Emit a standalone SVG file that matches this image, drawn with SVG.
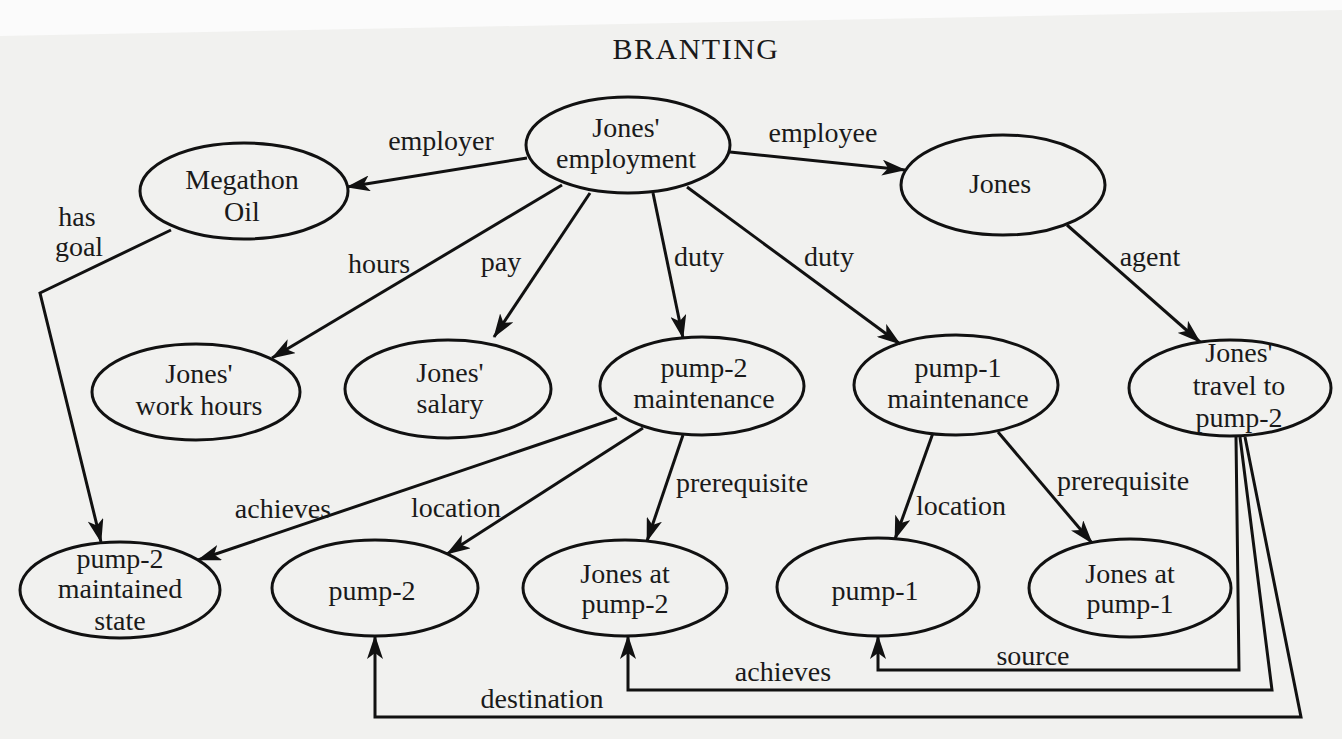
<svg xmlns="http://www.w3.org/2000/svg" width="1342" height="739" viewBox="0 0 1342 739">
  <defs>
    <marker id="arr" viewBox="0 0 24 16" refX="23" refY="8" markerWidth="24" markerHeight="16" markerUnits="userSpaceOnUse" orient="auto">
      <path d="M24,8 L0,0 L6,8 L0,16 Z" fill="#111"/>
    </marker>
    <style>
      .n ellipse { fill: none; stroke: #111; stroke-width: 3; }
      .n text, .lbl text { font-family: "Liberation Serif", "Times New Roman", serif; font-size: 28px; fill: #1a1a1a; text-anchor: middle; }
      #edges path { fill: none; stroke: #111; stroke-width: 3; marker-end: url(#arr); stroke-linejoin: miter; }
      .title { font-family: "Liberation Serif", "Times New Roman", serif; font-size: 30px; letter-spacing: 1.5px; fill: #1a1a1a; text-anchor: middle; }
    </style>
  </defs>

  <rect x="0" y="0" width="1342" height="739" fill="#f1f1ef"/>
  <polygon points="0,0 1342,0 1342,10 0,36" fill="#fbfbfb"/>

  <text class="title" x="696" y="59">BRANTING</text>

  <g id="edges">
    <path id="e-employer" d="M527,158 L347,187"/>
    <path id="e-employee" d="M730,152 L905,170"/>
    <path id="e-hours" d="M562,185 L272,358"/>
    <path id="e-pay" d="M590,193 L494,337"/>
    <path id="e-duty1" d="M653,193 L683,338"/>
    <path id="e-duty2" d="M687,187 L900,344"/>
    <path id="e-agent" d="M1067,225 L1200,342"/>
    <path id="e-hasgoal" d="M171,230 L40,293 L101,542"/>
    <path id="e-achieves1" d="M617,418 L198,560"/>
    <path id="e-location1" d="M643,428 L447,554"/>
    <path id="e-prereq1" d="M683,435 L647,541"/>
    <path id="e-location2" d="M933,433 L895,539"/>
    <path id="e-prereq2" d="M998,432 L1092,543"/>
    <path id="e-source" d="M1236,437 L1239,670 L878,670 L878,636"/>
    <path id="e-achieves2" d="M1240,437 L1272,690 L628,690 L628,636"/>
    <path id="e-destination" d="M1245,437 L1301,717 L375,717 L375,636"/>
  </g>

  <g class="lbl" id="labels">
    <text x="441" y="150">employer</text>
    <text x="823" y="142">employee</text>
    <text x="379" y="273">hours</text>
    <text x="501" y="271">pay</text>
    <text x="699" y="266">duty</text>
    <text x="829" y="266">duty</text>
    <text x="1150" y="266">agent</text>
    <text x="77" y="226">has</text>
    <text x="79" y="256">goal</text>
    <text x="283" y="518">achieves</text>
    <text x="456" y="517">location</text>
    <text x="742" y="492">prerequisite</text>
    <text x="961" y="515">location</text>
    <text x="1123" y="490">prerequisite</text>
    <text x="1033" y="665">source</text>
    <text x="783" y="681">achieves</text>
    <text x="542" y="708">destination</text>
  </g>

  <g class="n" id="n-jones-employment">
    <ellipse cx="628" cy="145" rx="102" ry="48"/>
    <text x="626" y="137">Jones'</text>
    <text x="626" y="168">employment</text>
  </g>
  <g class="n" id="n-megathon">
    <ellipse cx="244" cy="191" rx="104" ry="48"/>
    <text x="242" y="189">Megathon</text>
    <text x="242" y="221">Oil</text>
  </g>
  <g class="n" id="n-jones">
    <ellipse cx="1003" cy="185" rx="102" ry="50"/>
    <text x="1000" y="193">Jones</text>
  </g>
  <g class="n" id="n-work-hours">
    <ellipse cx="196" cy="392" rx="104" ry="48"/>
    <text x="199" y="383">Jones'</text>
    <text x="199" y="415">work hours</text>
  </g>
  <g class="n" id="n-salary">
    <ellipse cx="448" cy="389" rx="103" ry="49"/>
    <text x="450" y="382">Jones'</text>
    <text x="450" y="413">salary</text>
  </g>
  <g class="n" id="n-pump2-maint">
    <ellipse cx="702" cy="386" rx="102" ry="49"/>
    <text x="704" y="377">pump-2</text>
    <text x="704" y="408">maintenance</text>
  </g>
  <g class="n" id="n-pump1-maint">
    <ellipse cx="956" cy="385" rx="102" ry="50"/>
    <text x="958" y="377">pump-1</text>
    <text x="958" y="408">maintenance</text>
  </g>
  <g class="n" id="n-travel">
    <ellipse cx="1230" cy="388" rx="101" ry="48"/>
    <text x="1239" y="362">Jones'</text>
    <text x="1239" y="395">travel to</text>
    <text x="1239" y="427">pump-2</text>
  </g>
  <g class="n" id="n-maintained-state">
    <ellipse cx="120" cy="590" rx="100" ry="48"/>
    <text x="120" y="568">pump-2</text>
    <text x="120" y="598">maintained</text>
    <text x="120" y="630">state</text>
  </g>
  <g class="n" id="n-pump2">
    <ellipse cx="375" cy="588" rx="103" ry="48"/>
    <text x="372" y="600">pump-2</text>
  </g>
  <g class="n" id="n-jones-at-pump2">
    <ellipse cx="625" cy="588" rx="102" ry="48"/>
    <text x="625" y="583">Jones at</text>
    <text x="625" y="613">pump-2</text>
  </g>
  <g class="n" id="n-pump1">
    <ellipse cx="878" cy="587" rx="101" ry="49"/>
    <text x="875" y="600">pump-1</text>
  </g>
  <g class="n" id="n-jones-at-pump1">
    <ellipse cx="1130" cy="588" rx="101" ry="49"/>
    <text x="1130" y="583">Jones at</text>
    <text x="1130" y="613">pump-1</text>
  </g>
</svg>
